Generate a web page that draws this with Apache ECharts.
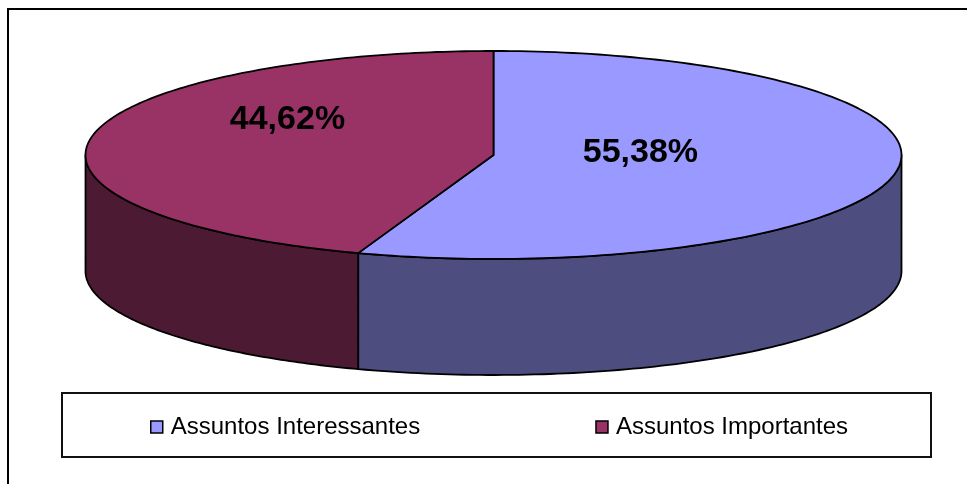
<!DOCTYPE html>
<html><head><meta charset="utf-8">
<script src="https://cdn.jsdelivr.net/npm/echarts@6/dist/echarts.min.js"></script>
<style>html,body{margin:0;padding:0;background:#fff}#c{width:967px;height:484px}</style>
</head><body><div id="c"></div>
<script>
// ---- data ----
const categories = ['Assuntos Interessantes', 'Assuntos Importantes'];
const values = [55.38, 44.62];
const valueLabels = ['55,38%', '44,62%'];

// ---- style / layout ----
const topColors = ['#9999FF', '#993366'];
const sideColors = ['#4D4D80', '#4D1A33'];
const PIE = { cx: 493.5, cy: 155, rx: 408, ry: 104, depth: 116 };
const LABEL_REL = [[0.36, -0.02], [-0.505, -0.337]]; // label offset relative to radii
const FONT = '"Liberation Sans", Arial, sans-serif';

function arcPts(t1, t2, dy, n) {
  const pts = [];
  for (let k = 0; k <= n; k++) {
    const t = t1 + (t2 - t1) * k / n;
    pts.push([PIE.cx + PIE.rx * Math.sin(t), PIE.cy - PIE.ry * Math.cos(t) + dy]);
  }
  return pts;
}

function makeSeries(i) {
  return {
    type: 'custom',
    name: categories[i],
    coordinateSystem: 'none',
    itemStyle: { color: topColors[i] },
    data: [[values[i]]],
    silent: true,
    renderItem: function (params, api) {
      const total = values.reduce((a, b) => a + b, 0);
      let before = 0;
      for (let j = 0; j < i; j++) before += values[j];
      const t1 = before / total * 2 * Math.PI;
      const t2 = (before + api.value(0)) / total * 2 * Math.PI;
      const children = [];
      const s1 = Math.max(t1, Math.PI / 2), s2 = Math.min(t2, 3 * Math.PI / 2);
      if (s2 > s1) {
        const top = arcPts(s1, s2, 0, 100);
        const bot = arcPts(s1, s2, PIE.depth, 100).reverse();
        children.push({
          type: 'polygon', shape: { points: top.concat(bot) },
          style: { fill: sideColors[i], stroke: '#000', lineWidth: 1.8, lineJoin: 'round' }
        });
      }
      const topPts = [[PIE.cx, PIE.cy]].concat(arcPts(t1, t2, 0, 160));
      children.push({
        type: 'polygon', shape: { points: topPts },
        style: { fill: topColors[i], stroke: '#000', lineWidth: 1.8, lineJoin: 'round' }
      });
      children.push({
        type: 'text',
        x: PIE.cx + PIE.rx * LABEL_REL[i][0],
        y: PIE.cy + PIE.ry * LABEL_REL[i][1],
        style: {
          text: valueLabels[i], fill: '#000', align: 'center', verticalAlign: 'middle',
          fontSize: 34, fontWeight: 'bold', fontFamily: FONT
        }
      });
      return { type: 'group', children: children };
    }
  };
}

const chart = echarts.init(document.getElementById('c'), null, { renderer: 'canvas' });
chart.setOption({
  animation: false,
  backgroundColor: '#fff',
  graphic: [
    { type: 'rect', z: -10, shape: { x: 8, y: 9, width: 1000, height: 500 },
      style: { fill: 'none', stroke: '#000', lineWidth: 2 } },
    { type: 'rect', z: -10, shape: { x: 62, y: 393, width: 869, height: 64 },
      style: { fill: '#fff', stroke: '#111', lineWidth: 2 } }
  ],
  legend: {
    data: categories,
    left: 150,
    top: 415,
    padding: 0,
    icon: 'rect',
    itemWidth: 12,
    itemHeight: 12,
    itemGap: 175,
    selectedMode: false,
    itemStyle: { borderColor: '#000', borderWidth: 1.5 },
    textStyle: { fontFamily: FONT, fontSize: 24, color: '#000', lineHeight: 24, padding: [0, 0, 0, 3] }
  },
  series: categories.map((c, i) => makeSeries(i))
});
</script>
</body></html>
